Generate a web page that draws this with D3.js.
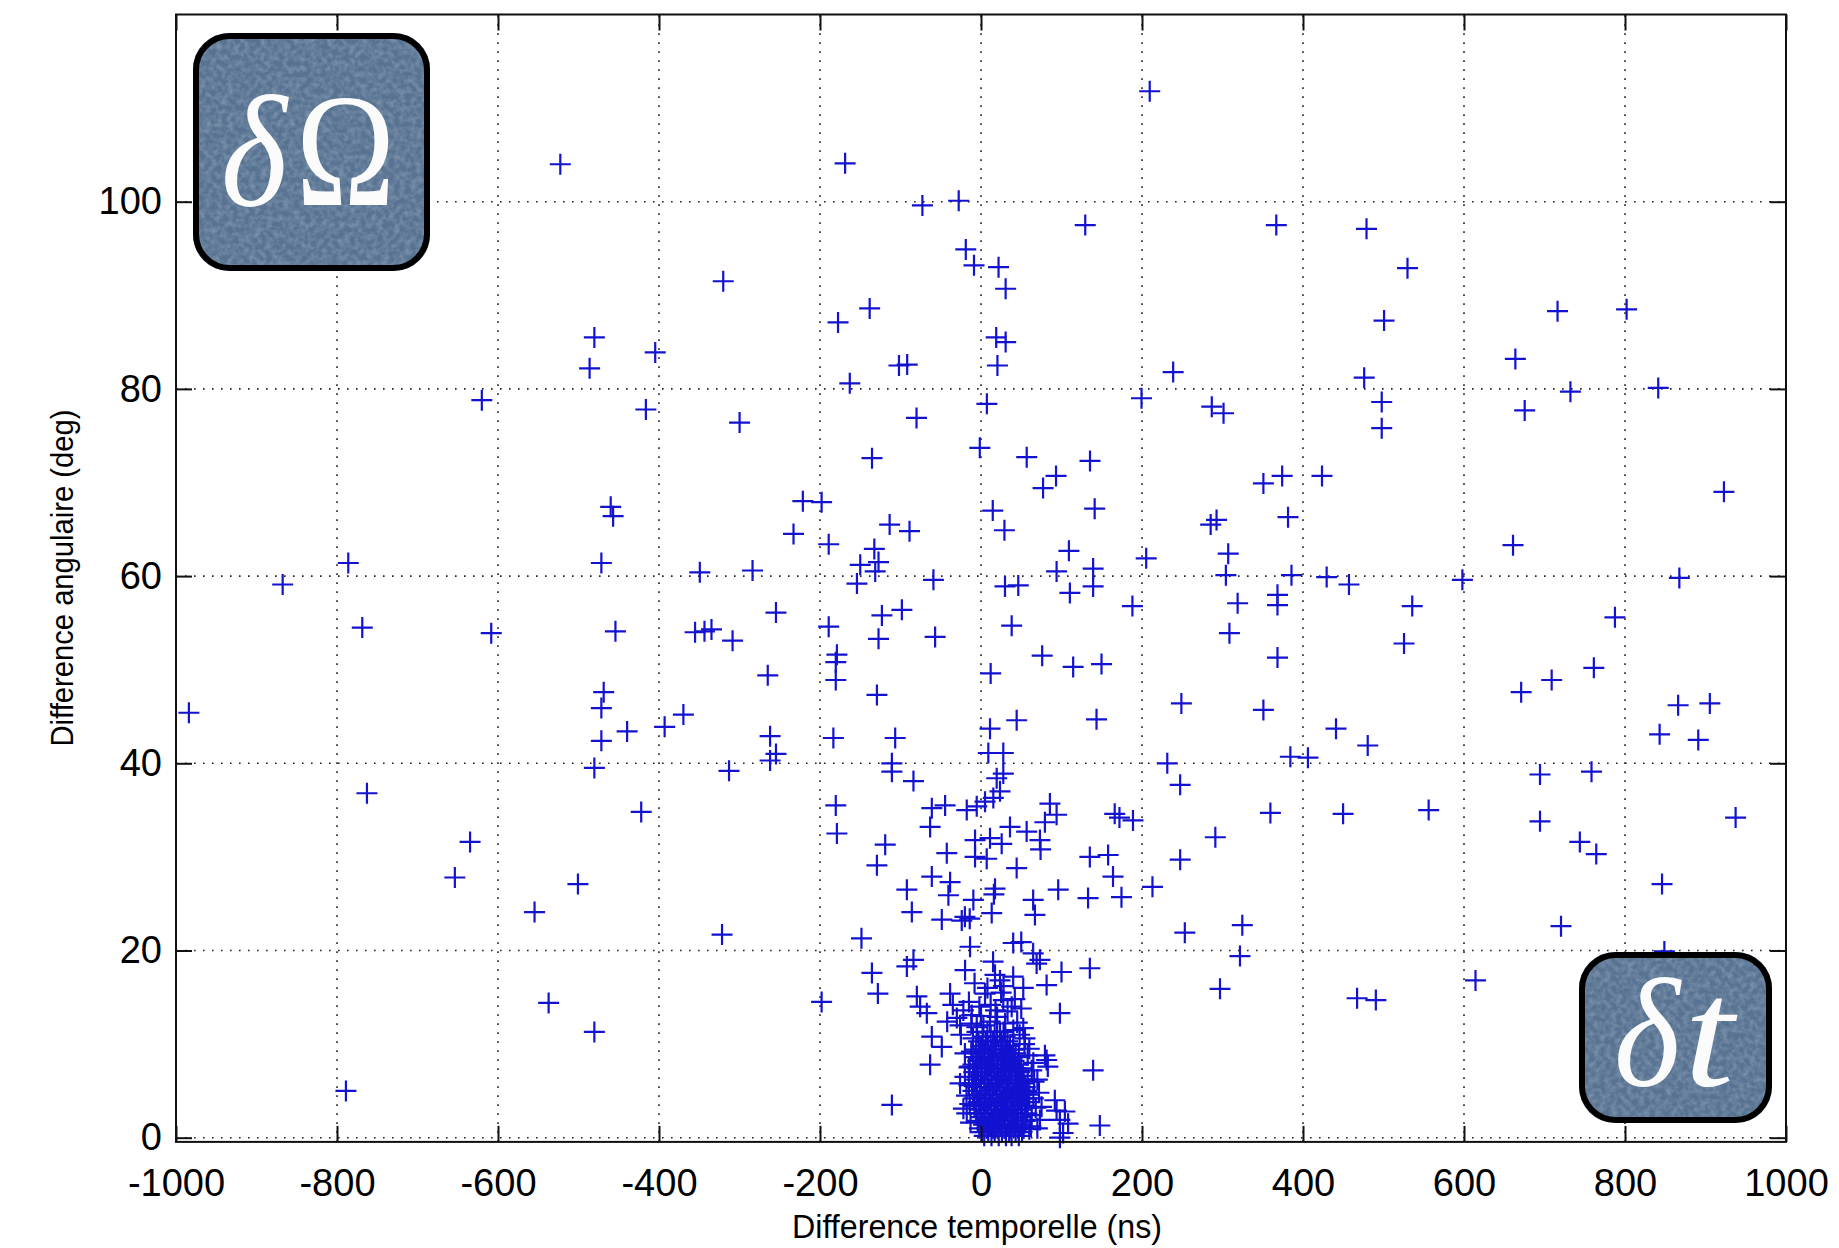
<!DOCTYPE html>
<html>
<head>
<meta charset="utf-8">
<script src="https://cdn.jsdelivr.net/npm/d3@7"></script>
<style>
  html, body { margin: 0; background: #fff; }
  svg { display: block; }
</style>
</head>
<body>
<svg id="chart" width="1839" height="1248"></svg>
<script>
// Axis ticks
const timeTicks = [-1000, -800, -600, -400, -200, 0, 200, 400, 600, 800, 1000];
const angleTicks = [0, 20, 40, 60, 80, 100];

// Coincidences: [time difference (ns), angular difference (deg)]
// Widely scattered events
const scatterOuter = [
  [209.6,111.8],[-522.6,104.0],[-168.8,104.1],[-72.8,99.6],[-27.7,100.1],[129.5,97.5],[366.8,97.5],[478.9,97.1],
  [529.8,92.9],[-18.9,94.9],[-8.7,93.2],[21.8,93.0],[30.6,90.7],[-320.2,91.5],[-177.6,87.1],[-138.3,88.6],
  [-480.3,85.5],[-404.7,83.9],[-486.2,82.2],[18.9,85.5],[30.6,85.0],[20.4,82.5],[-101.9,82.5],[-91.7,82.6],
  [500.7,87.3],[716.2,88.3],[802,88.5],[663.8,83.2],[841.3,80.1],[732.2,79.7],[675.4,77.7],[476,81.2],
  [497.8,78.6],[497.8,75.8],[238.7,81.8],[199.4,79.0],[286.7,78.1],[301.3,77.4],[-163,80.6],[-620.1,78.8],
  [-416.3,77.8],[-299.9,76.4],[-80.1,76.9],[7.3,78.4],[-1.5,73.7],[-135.4,72.6],[56.8,72.7],[135.4,72.3],
  [350.8,69.9],[374.1,70.7],[423.6,70.7],[922.9,69.0],[77.1,69.4],[93.2,70.7],[-460,67.4],[-457,66.4],
  [-221.3,68.0],[-198,67.9],[14.6,67.0],[29.1,64.9],[141.2,67.2],[381.4,66.3],[285.3,65.5],[292.6,66.0],
  [-232.9,64.5],[-189.2,63.4],[-113.5,65.5],[-88.8,64.8],[-132.5,62.9],[109.2,62.7],[205.2,61.9],[307.1,62.4],
  [660.9,63.3],[-867.5,59.1],[-786,61.4],[-471.6,61.4],[-349.3,60.4],[-283.8,60.6],[304.2,60.1],[385.7,60.1],
  [429.4,59.9],[457.1,59.1],[598,59.6],[867.5,59.8],[787.5,55.6],[535.7,56.8],[525.5,52.8],[318.8,57.1],
  [368.3,58.0],[368.3,56.9],[308.6,53.9],[368.3,51.3],[-768.6,54.5],[-608.4,53.9],[-454.1,54.1],[-355.2,54.0],
  [-343.5,54.1],[-334.8,54.3],[-308.6,53.1],[-254.7,56.1],[-189.2,54.6],[-179,51.6],[-180.4,50.8],[-180.4,48.9],
  [-264.9,49.4],[-468.7,47.6],[-471.6,45.9],[-439.6,43.4],[-471.6,42.4],[-480.3,39.5],[-422.1,34.8],[-369.7,45.2],
  [-393,43.9],[-183.4,42.7],[-262,42.9],[-254.7,41.0],[-262,40.3],[-313,39.2],[-984,45.4],[-762.8,36.8],
  [-634.7,31.6],[-653.6,27.8],[-500.7,27.1],[-554.6,24.1],[-321.7,21.7],[-537.1,14.4],[-480.3,11.3],[-788.9,5.0],
  [-198,14.5],[-148.5,21.3],[-180.4,35.5],[-179,32.5],[-128.1,15.4],[-110.7,3.5],[248.9,46.4],[350.8,45.7],
  [441.0,43.7],[480.4,41.9],[384.3,40.7],[406.1,40.6],[231.4,40.0],[247.4,37.7],[671,47.6],[708.9,48.9],
  [761.3,50.2],[866,46.2],[905.4,46.4],[843,43.1],[891,42.5],[694.4,38.8],[758.4,39.1],[694.4,33.8],
  [743.9,31.6],[764.3,30.3],[720.5,22.6],[846,27.1],[848.9,19.9],[937.4,34.2],[556.1,35.0],[449.8,34.6],
  [359.5,34.7],[291.1,32.1],[247.4,29.7],[253.2,21.9],[324.6,22.7],[321.7,19.4],[296.9,15.9],[467.2,14.9],
  [490.5,14.7],[614.3,16.8]
];

// Central band, 40-62 deg
const scatterUpper = [
  [-150,61.2],[-127.3,61.5],[-131.4,60.5],[-154.1,59.2],[-59.1,59.6],[-123.1,55.8],[-98.3,56.4],[-127.3,53.3],
  [-57,53.5],[-129.3,47.3],[-106.6,42.7],[-110.7,40.0],[29.8,58.9],[46.3,59.0],[93.9,60.5],[139.3,60.8],
  [139.3,58.9],[110.4,58.2],[188.1,56.8],[38.1,54.7],[76,51.5],[114.5,50.3],[149.7,50.6],[12,49.6],
  [44.3,44.6],[143.5,44.7],[11.2,43.7],[9.1,41.1],[27.7,41.1]
];

// Central band, 17-40 deg
const scatterMiddle = [
  [-110.7,39.1],[-83.9,38.1],[-61.1,35.2],[-44.6,35.5],[-63.2,33.2],[-17.7,35.0],[-5.3,35.4],[5,35.9],
  [19.5,38.4],[27.7,38.9],[23.6,37.0],[15.3,36.3],[-119,31.3],[-129.3,29.1],[-7.4,31.8],[11.2,32.0],
  [25.7,31.4],[36,33.2],[56.7,32.7],[79.4,33.7],[85.6,35.7],[93.9,34.5],[73.2,31.8],[74,30.8],
  [-42.5,30.4],[-7.4,30.0],[7.1,29.8],[44.3,28.8],[135.2,30.0],[157.9,30.2],[164,27.9],[188.8,33.9],
  [166.1,34.6],[172,34.2],[-92.1,26.5],[-61.1,27.9],[-38.4,27.3],[-40.5,25.9],[-85.9,24.1],[-48.7,23.3],
  [-23.9,23.2],[-20,23.6],[-14,23.4],[-9.5,25.4],[17.4,26.6],[16,26.0],[13.3,24.0],[64.8,25.4],
  [67,23.8],[95.9,26.5],[133,25.6],[174.5,25.7],[213,26.8],[-13.6,20.4],[40,20.8],[50,20.9],
  [64.8,19.7],[73.2,19.0],[-83.9,19.0],[-135.5,17.6]
];

// Around the coincidence peak, below 19 deg
const scatterLower = [
  [-92.1,18.3],[-19.8,17.9],[17.4,17.4],[23.6,16.8],[69.1,18.6],[100,17.7],[135.2,18.1],[81.5,16.3],
  [52.5,16.0],[-38.4,15.4],[-79.7,15.1],[-75.6,14.0],[-67.3,13.3],[5,15.4],[27.7,14.7],[38.1,14.0],
  [98,13.3],[-21.9,13.6],[-11.5,13.1],[-26,12.0],[-5.3,11.8],[11.2,12.4],[23.6,11.3],[40.1,11.5],
  [52.5,11.7],[54.6,10.6],[-61.1,10.8],[-48.7,9.7],[-63.2,7.8],[-26,5.8],[81.5,8.3],[79.4,8.8],
  [83,7.6],[139.3,7.2],[147.6,1.3],[-21.9,3.1],[-17.7,2.6],[75.2,3.3],[91.7,4.0],[93.9,2.9],
  [104.2,2.8],[98,1.9],[108.2,1.5],[102,0.5],[98,0.0],[73.2,1.9],[70,1.0],[-30,12.8],
  [-15,14.5],[0,13.0],[12,14.2],[20,12.9],[33,13.5],[45,12.3],[8,16.0],[-8,16.5],
  [28,16.2],[40,17.2],[15,18.8],[-25,11.0],[-20,9.0],[-15,7.5],[60,9.5],[65,8.0],
  [70,6.2],[72,4.8],[68,3.2],[62,1.2],[-18,4.5],[-20,6.5]
];

// Rim of the peak
const peakEdges = [
  [-13,1.6],[-14,3.6],[-15,5.6],[-14,7.6],[-12,9.2],[-10,10.6],[60,0.9],[63,2.4],
  [65,4.2],[66,6.0],[63,7.2],[58,8.8],[54,10.0],[48,11.0],[-12,12.2],[3,12.0],
  [18,13.6],[30,12.2],[42,14.8],[-2,14.0],[25,15.5],[50,13.8],[-35,14.2],[-42,12.4]
];

// Dense peak, grouped by angular difference (deg) -> time differences (ns)
const peakRows = [
  [0.2, [4, 13, 22, 31, 38, 47]],
  [0.6, [1, 9, 17, 26, 35, 43, 51]],
  [1.0, [-2, 7, 15, 21, 29, 37, 46, 53]],
  [1.4, [3, 11, 19, 25, 33, 41, 49]],
  [1.8, [-4, 5, 14, 23, 30, 39, 44, 55]],
  [2.2, [0, 8, 17, 27, 34, 42, 50]],
  [2.6, [-6, 3, 12, 20, 29, 37, 46, 57]],
  [3.0, [-1, 9, 16, 24, 32, 40, 51]],
  [3.4, [-8, 4, 13, 21, 28, 36, 45, 54]],
  [3.8, [-3, 6, 18, 26, 33, 42, 49, 58]],
  [4.2, [-9, 1, 10, 19, 30, 38, 47, 55]],
  [4.6, [-5, 7, 15, 23, 31, 41, 52, 60]],
  [5.0, [-10, -1, 11, 20, 27, 35, 44, 50, 57]],
  [5.4, [-6, 4, 14, 24, 33, 39, 48, 55]],
  [5.8, [-11, 0, 9, 17, 28, 36, 46, 53]],
  [6.2, [-7, 5, 13, 22, 31, 42, 50, 58]],
  [6.6, [-3, 8, 19, 26, 34, 45, 52]],
  [7.0, [-9, 2, 12, 21, 30, 39, 48]],
  [7.4, [-5, 6, 16, 25, 35, 43, 50]],
  [7.8, [-10, 0, 10, 20, 28, 37, 46]],
  [8.2, [-4, 5, 14, 24, 32, 41]],
  [8.6, [-7, 2, 11, 19, 29, 38, 47]],
  [9.0, [-2, 8, 16, 26, 34, 43]],
  [9.4, [-6, 4, 13, 22, 31, 40]],
  [9.8, [0, 9, 18, 27, 36]],
  [10.3, [-3, 6, 15, 25, 33]],
  [10.8, [2, 12, 20, 30]],
  [11.3, [-5, 8, 17, 28]]
];

const points = [
  ...scatterOuter, ...scatterUpper, ...scatterMiddle, ...scatterLower, ...peakEdges,
  ...peakRows.flatMap(([deg, times]) => times.map(t => [t, deg]))
];

const svg = d3.select("#chart");
const W = 1839, H = 1248;
svg.append("rect").attr("width", W).attr("height", H).attr("fill", "#fff");

const x = d3.scaleLinear().domain([-1000, 1000]).range([176, 1786]);
const y = d3.scaleLinear().domain([-0.45, 120]).range([1141.9, 14.5]);

const [x0, x1] = x.range();
const [yB, yT] = y.range();

// Dotted grid
const grid = svg.append("g").attr("stroke", "#222").attr("stroke-width", 1.6)
  .attr("stroke-dasharray", "1.6 7.4");
grid.selectAll("line.v").data(timeTicks.slice(1, -1)).join("line")
  .attr("x1", d => x(d)).attr("x2", d => x(d)).attr("y1", yB).attr("y2", yT);
grid.selectAll("line.h").data(angleTicks).join("line")
  .attr("y1", d => y(d)).attr("y2", d => y(d)).attr("x1", x0).attr("x2", x1);

// Markers
svg.append("g").attr("fill", "none").attr("stroke", "#1212d0").attr("stroke-width", 2.2)
  .selectAll("path").data(points).join("path")
  .attr("transform", d => `translate(${x(d[0])},${y(d[1])})`)
  .attr("d", "M-10.5,0H10.5M0,-10.5V10.5");

// Axes
const font = "'Liberation Sans', Arial, Helvetica, sans-serif";
const tickLen = -16;
const plain = d => String(d);
const styleAxis = g => {
  g.select(".domain").remove();
  g.selectAll(".tick line").attr("stroke", "#111").attr("stroke-width", 2);
  g.selectAll(".tick text").attr("fill", "#000").attr("font-family", font).attr("font-size", 38);
};

svg.append("g").attr("transform", `translate(0,${yB})`)
  .call(d3.axisBottom(x).tickValues(timeTicks).tickSizeInner(tickLen).tickSizeOuter(0).tickPadding(27)
    .tickFormat(plain))
  .call(styleAxis);
svg.append("g").attr("transform", `translate(0,${yT})`)
  .call(d3.axisTop(x).tickValues(timeTicks).tickSizeInner(tickLen).tickSizeOuter(0).tickFormat(""))
  .call(styleAxis);
svg.append("g").attr("transform", `translate(${x0},0)`)
  .call(d3.axisLeft(y).tickValues(angleTicks).tickSizeInner(tickLen).tickSizeOuter(0).tickPadding(14)
    .tickFormat(plain))
  .call(styleAxis);
svg.append("g").attr("transform", `translate(${x1},0)`)
  .call(d3.axisRight(y).tickValues(angleTicks).tickSizeInner(tickLen).tickSizeOuter(0).tickFormat(""))
  .call(styleAxis);

// Frame
svg.append("rect").attr("x", x0).attr("y", yT).attr("width", x1 - x0).attr("height", yB - yT)
  .attr("fill", "none").attr("stroke", "#111").attr("stroke-width", 2);

// Axis titles
svg.append("text").attr("x", 977).attr("y", 1238).attr("text-anchor", "middle")
  .attr("font-family", font).attr("font-size", 33).attr("fill", "#000")
  .attr("textLength", 370).attr("lengthAdjust", "spacingAndGlyphs")
  .text("Difference temporelle (ns)");
svg.append("text").attr("transform", "translate(73,578) rotate(-90)").attr("text-anchor", "middle")
  .attr("font-family", font).attr("font-size", 31).attr("fill", "#000")
  .attr("textLength", 337).attr("lengthAdjust", "spacingAndGlyphs")
  .text("Difference angulaire (deg)");

// Badges with a fine paper-grain fill
const defs = svg.append("defs");
const f = defs.append("filter").attr("id", "grain").attr("x", 0).attr("y", 0).attr("width", 1).attr("height", 1);
f.append("feTurbulence").attr("type", "fractalNoise").attr("baseFrequency", 0.18)
  .attr("numOctaves", 2).attr("seed", 7).attr("result", "noise");
f.append("feColorMatrix").attr("in", "noise").attr("type", "matrix")
  .attr("values", "0 0 0 0 0.72  0 0 0 0 0.79  0 0 0 0 0.88  0.55 0 0 0 -0.2").attr("result", "tint");
f.append("feComposite").attr("in", "tint").attr("in2", "SourceAlpha").attr("operator", "in");

function badge(bx, by, bw, bh, parts) {
  const g = svg.append("g");
  g.append("rect").attr("x", bx).attr("y", by).attr("width", bw).attr("height", bh)
    .attr("rx", 36).attr("fill", "#587392");
  g.append("rect").attr("x", bx).attr("y", by).attr("width", bw).attr("height", bh)
    .attr("rx", 36).attr("fill", "#000").attr("filter", "url(#grain)");
  g.append("rect").attr("x", bx + 3).attr("y", by + 3).attr("width", bw - 6).attr("height", bh - 6)
    .attr("rx", 34).attr("fill", "none").attr("stroke", "#000").attr("stroke-width", 6);
  parts.forEach(p => {
    g.append("text").attr("x", p.x).attr("y", p.y)
      .attr("font-family", "'Liberation Serif', 'DejaVu Serif', serif")
      .attr("font-size", p.size).attr("font-style", p.italic ? "italic" : "normal")
      .attr("fill", "#fbfbfb").attr("textLength", p.w).attr("lengthAdjust", "spacingAndGlyphs")
      .text(p.t);
  });
}

badge(193, 33, 237, 238, [
  { t: "δ", x: 221, y: 205, size: 158, italic: true, w: 66 },
  { t: "Ω", x: 296, y: 205, size: 160, italic: false, w: 99 }
]);
badge(1579, 952, 193, 171, [
  { t: "δ", x: 1614, y: 1085, size: 155, italic: true, w: 66 },
  { t: "t", x: 1684, y: 1085, size: 155, italic: true, w: 50 }
]);
</script>
</body>
</html>
